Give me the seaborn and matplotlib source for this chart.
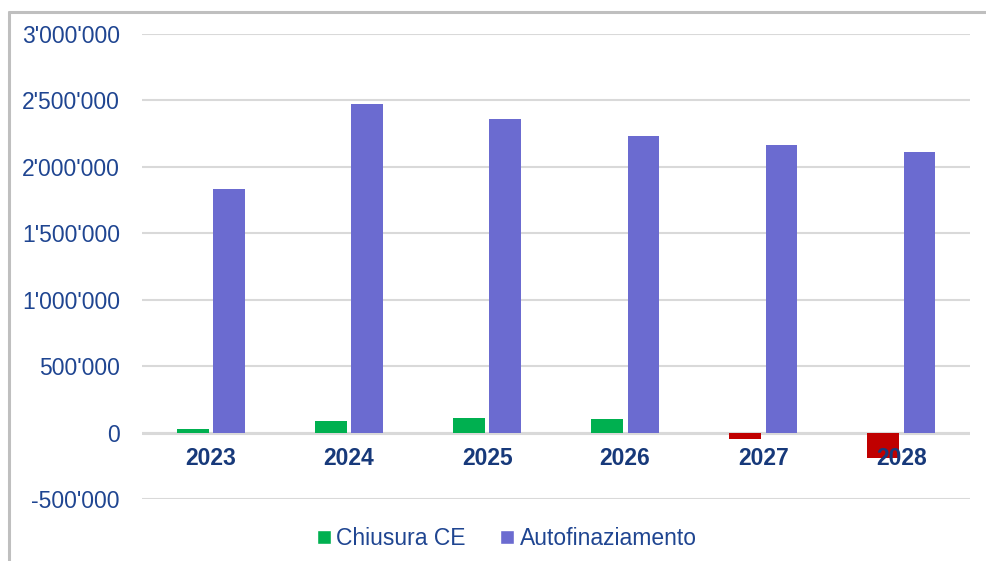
import matplotlib.pyplot as plt
import matplotlib.ticker as mticker
from matplotlib.lines import Line2D
from matplotlib.patches import Patch
import seaborn as sns
import pandas as pd

# values
anni = ['2023', '2024', '2025', '2026', '2027', '2028']
chiusura_ce = [28000, 85000, 110000, 102000, -45000, -190000]
autofinanziamento = [1830000, 2475000, 2360000, 2230000, 2165000, 2113000]
serie = ['Chiusura CE', 'Autofinaziamento']

verde = '#00b050'
rosso = '#c00000'
viola = '#6b6bd0'
blu_testo = '#1f4591'
blu_anni = '#17397a'
grigio = '#d9d9d9'

df = pd.DataFrame({
    'anno': anni * 2,
    'valore': chiusura_ce + autofinanziamento,
    'serie': [serie[0]] * len(anni) + [serie[1]] * len(anni),
})

sns.set_style('white')
plt.rcParams['font.family'] = ['Liberation Sans', 'DejaVu Sans']

fig = plt.figure(figsize=(9.86, 5.61), dpi=100)
ax = fig.add_axes([0.144, 0.1105, 0.840, 0.829])

sns.barplot(data=df, x='anno', y='valore', hue='serie', hue_order=serie,
            palette=[verde, viola], width=0.53, gap=0.13, legend=False,
            saturation=1, linewidth=0, ax=ax, zorder=3)

# negative closings in red
for bar in ax.containers[0]:
    if bar.get_height() < 0:
        bar.set_facecolor(rosso)

ax.set_ylim(-500000, 3000000)
ax.set_xlim(-0.5, len(anni) - 0.5)
ax.yaxis.set_major_locator(mticker.MultipleLocator(500000))
ax.yaxis.set_major_formatter(mticker.FuncFormatter(lambda v, p: f'{int(v):,}'.replace(',', "'")))
ax.grid(axis='y', color=grigio, linewidth=1.5, zorder=0)
ax.axhline(0, color=grigio, linewidth=2.2, zorder=2)
ax.tick_params(axis='y', length=0, pad=16, labelsize=16.5, labelcolor=blu_testo)
ax.set_xticks([])
ax.set_xlabel('')
ax.set_ylabel('')
for s in ax.spines.values():
    s.set_visible(False)

# year labels sit just under the zero line
for i, a in enumerate(anni):
    ax.annotate(a, (i, 0), xytext=(0, -19), textcoords='offset points',
                ha='center', va='center', fontsize=16.5, fontweight='bold',
                color=blu_anni, zorder=5)

handles = [Patch(facecolor=verde), Patch(facecolor=viola)]
fig.legend(handles, serie, loc='center', bbox_to_anchor=(0.514, 0.040),
           ncol=2, frameon=False, fontsize=16.5, labelcolor=blu_testo,
           handlelength=0.6, handleheight=0.6, handletextpad=0.25,
           columnspacing=1.5)

# outer chart frame (only left and top visible)
fig.add_artist(Line2D([8.5 / 986, 8.5 / 986], [0, 1 - 12 / 561], color='#bfbfbf', linewidth=2.2))
fig.add_artist(Line2D([8.5 / 986, 1], [1 - 12 / 561, 1 - 12 / 561], color='#bfbfbf', linewidth=2.2))

fig.savefig('out.png', dpi=100)
